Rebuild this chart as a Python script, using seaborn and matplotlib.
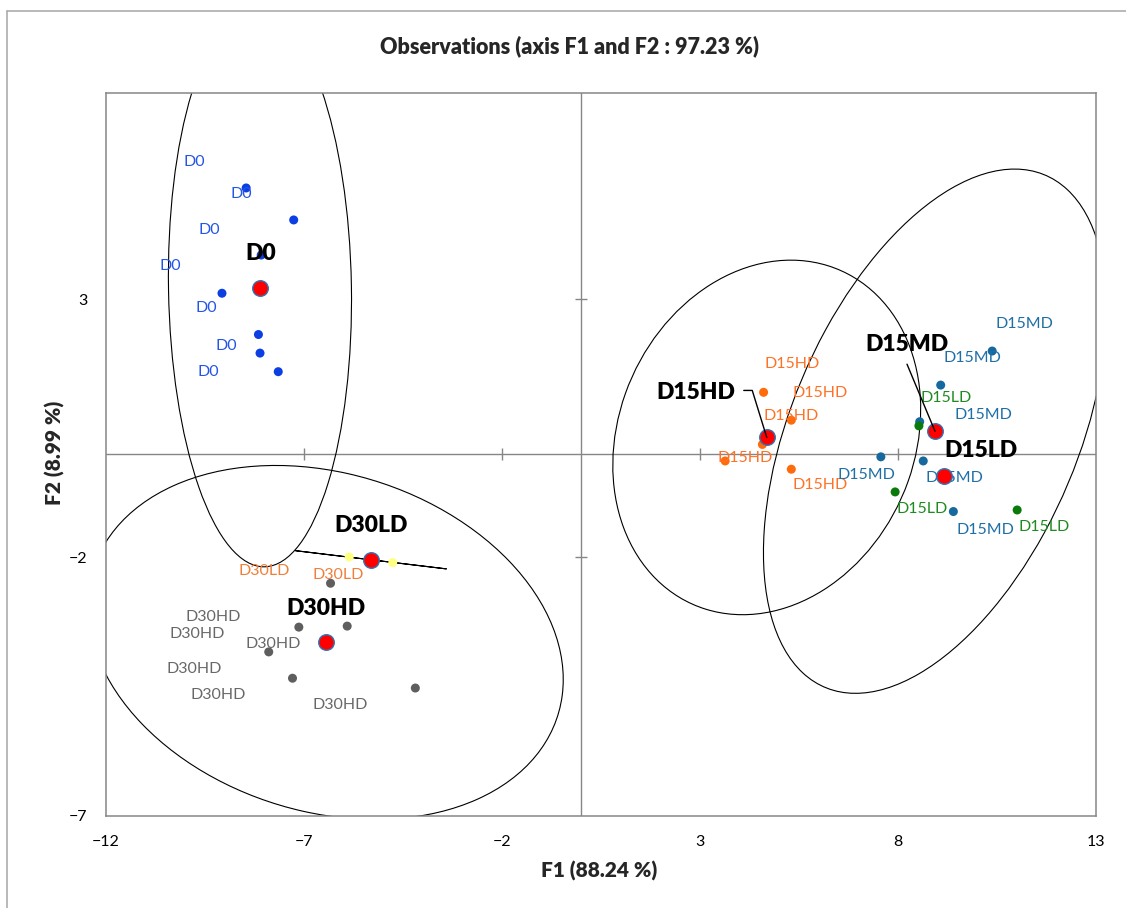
import numpy as np
import pandas as pd
import matplotlib
matplotlib.use("Agg")
import matplotlib.pyplot as plt
from matplotlib.patches import Ellipse
from matplotlib.lines import Line2D
import seaborn as sns

# ---------------- data ----------------
groups = ["D0", "D30LD", "D30HD", "D15HD", "D15MD", "D15LD"]

f1_D0 = [-8.45, -7.25, -8.07, -9.06, -8.14, -8.10, -7.64]
f2_D0 = [5.16, 4.54, 3.86, 3.12, 2.32, 1.96, 1.60]

f1_D30LD = [-5.85, -4.75]
f2_D30LD = [-1.99, -2.10]

f1_D30HD = [-6.32, -7.12, -5.90, -7.88, -7.28, -4.18]
f2_D30HD = [-2.50, -3.35, -3.33, -3.83, -4.34, -4.53]

f1_D15HD = [4.61, 5.31, 4.58, 3.64, 5.31]
f2_D15HD = [1.20, 0.66, 0.19, -0.13, -0.29]

f1_D15MD = [10.38, 9.08, 8.55, 7.57, 8.64, 9.40]
f2_D15MD = [2.00, 1.34, 0.63, -0.05, -0.13, -1.11]

f1_D15LD = [8.53, 7.93, 11.01]
f2_D15LD = [0.55, -0.73, -1.08]

# confidence-ellipse spread matrices (F1 var, F2 var, covariance)
ell_groups = ["D0", "D30LD", "D30HD", "D15HD", "D15MD"]
ell_sxx = [5.34, 3.648, 36.0, 15.1, 18.75]
ell_syy = [29.2, 0.0313, 11.76, 11.8, 25.8]
ell_sxy = [-0.55, -0.338, -4.3, 2.09, 10.2]

x_ticks = [-12, -7, -2, 3, 8, 13]
y_ticks = [-7, -2, 3]

title = "Observations (axis F1 and F2 : 97.23 %)"
x_label = "F1 (88.24 %)"
y_label = "F2 (8.99 %)"

# ---------------- styling / layout ----------------
point_colors = {"D0": "#0B3FE3", "D30LD": "#FFFF80", "D30HD": "#5E5E5E",
                "D15HD": "#FF6A0A", "D15MD": "#16699F", "D15LD": "#0A7A0A"}
label_colors = {"D0": "#2455E6", "D30LD": "#F07F3A", "D30HD": "#686868",
                "D15HD": "#FF7125", "D15MD": "#1E6FA6", "D15LD": "#1F8A1F"}

# label offsets in pixels (dx, dy up) relative to each point
label_off = {
    "D0": [(-52, 26), (-52, 26), (-52, 25), (-52, 27), (-52, 27), (-52, -19), (-52, 26)],
    "D30LD": [(-85, -14), (-55, -12)],
    "D30HD": [(-117, -34), (-102, -7), (-74, -18), (-75, -17), (-74, -17), (-75, -17)],
    "D15HD": [(29, 28), (29, 27), (29, 28), (20, 3), (29, -16)],
    "D15MD": [(32, 27), (32, 27), (64, 7), (-14, -18), (31, -17), (32, -18)],
    "D15LD": [(27, 28), (27, -17), (27, -17)],
}
centroid_label_off = {"D0": (1, 34), "D30LD": (0, 34), "D30HD": (0, 34),
                      "D15HD": (-71, 45), "D15MD": (-28, 87), "D15LD": (37, 25)}

sns.set_theme(style="white")
plt.rcParams["font.family"] = ["Lato", "DejaVu Sans"]

W, H = 1126, 908
fig = plt.figure(figsize=(W / 100, H / 100), dpi=100)
left, right, top, bottom = 105.5, 1096, 93, 815.5
ax = fig.add_axes([left / W, 1 - bottom / H, (right - left) / W, (bottom - top) / H])

# build dataframe
f1 = {"D0": f1_D0, "D30LD": f1_D30LD, "D30HD": f1_D30HD, "D15HD": f1_D15HD,
      "D15MD": f1_D15MD, "D15LD": f1_D15LD}
f2 = {"D0": f2_D0, "D30LD": f2_D30LD, "D30HD": f2_D30HD, "D15HD": f2_D15HD,
      "D15MD": f2_D15MD, "D15LD": f2_D15LD}
rows = []
for g in groups:
    for a, b in zip(f1[g], f2[g]):
        rows.append({"group": g, "F1": a, "F2": b})
df = pd.DataFrame(rows)
cent = df.groupby("group", sort=False)[["F1", "F2"]].mean().reset_index()

ax.set_xlim(-12, 13)
ax.set_ylim(-7, 7)

# axes crossing at zero with small cross ticks
axis_gray = "#868686"
ax.axhline(0, color=axis_gray, lw=1.0, zorder=1)
ax.axvline(0, color=axis_gray, lw=1.0, zorder=1)
inner_x = [t for t in x_ticks if -12 < t < 13]
inner_y = [t for t in y_ticks if -7 < t < 7]
ax.plot(inner_x, [0] * len(inner_x), ls="none", marker="|", ms=8, mew=1.0,
        color=axis_gray, zorder=1)
ax.plot([0] * len(inner_y), inner_y, ls="none", marker="_", ms=8, mew=1.0,
        color=axis_gray, zorder=1)

# ellipses
for g, sxx, syy, sxy in zip(ell_groups, ell_sxx, ell_syy, ell_sxy):
    c = cent[cent.group == g].iloc[0]
    m = np.array([[sxx, sxy], [sxy, syy]])
    vals, vecs = np.linalg.eigh(m)
    order = vals.argsort()[::-1]
    vals, vecs = vals[order], vecs[:, order]
    w = 2 * np.sqrt(max(vals[0], 0))
    h = 2 * np.sqrt(max(vals[1], 0))
    ang = np.degrees(np.arctan2(vecs[1, 0], vecs[0, 0]))
    ax.add_patch(Ellipse((c.F1, c.F2), w, h, angle=ang, fill=False,
                         edgecolor="black", lw=0.8, zorder=2))

# observation points
sns.scatterplot(data=df, x="F1", y="F2", hue="group", palette=point_colors,
                s=42, edgecolor="none", linewidth=0, legend=False, ax=ax, zorder=3)

# observation labels
for g in groups:
    for (a, b), (dx, dy) in zip(zip(f1[g], f2[g]), label_off[g]):
        ax.annotate(g, (a, b), xytext=(dx, dy), textcoords="offset pixels",
                    ha="center", va="center", fontsize=11.5, color=label_colors[g],
                    zorder=4)

# centroids
sns.scatterplot(data=cent, x="F1", y="F2", color="#FF0000", s=125,
                edgecolor="#2E75B6", linewidth=1.0, legend=False, ax=ax, zorder=5)

for _, r in cent.iterrows():
    dx, dy = centroid_label_off[r.group]
    ax.annotate(r.group, (r.F1, r.F2), xytext=(dx, dy), textcoords="offset pixels",
                ha="center", va="center", fontsize=16.5, fontweight="heavy",
                color="black", zorder=6)

# leader lines
c = cent[cent.group == "D15HD"].iloc[0]
ax.annotate("", (c.F1, c.F2), xytext=(-23, 47), textcoords="offset pixels",
            arrowprops=dict(arrowstyle="-", color="black", lw=1.0, shrinkA=0, shrinkB=0,
                            connectionstyle="arc,angleA=0,armA=8.5,angleB=0,armB=0,rad=0"),
            zorder=6)
c = cent[cent.group == "D15MD"].iloc[0]
ax.annotate("", (c.F1, c.F2), xytext=(-28, 67), textcoords="offset pixels",
            arrowprops=dict(arrowstyle="-", color="black", lw=1.0, shrinkA=0, shrinkB=0),
            zorder=6)

# ticks & frame
ax.set_xticks(x_ticks)
ax.set_yticks(y_ticks)
ax.tick_params(axis="both", length=0, labelsize=11.5, labelcolor="black")
ax.tick_params(axis="x", pad=14)
ax.tick_params(axis="y", pad=13)
for s in ax.spines.values():
    s.set_visible(True)
    s.set_color(axis_gray)
    s.set_linewidth(1.1)
ax.set_xlabel("")
ax.set_ylabel("")
ax.grid(False)

fig.text(570 / W, 1 - 46.5 / H, title, ha="center", va="center",
         fontsize=15.5, fontweight="heavy")
fig.text(599 / W, 1 - 871 / H, x_label, ha="center", va="center",
         fontsize=15, fontweight="heavy")
fig.text(55 / W, 1 - 453 / H, y_label, ha="center", va="center", rotation=90,
         fontsize=15, fontweight="heavy")

# outer chart frame (top and left edges visible in reference)
frame_c = "#A6A6A6"
fig.add_artist(Line2D([7 / W, 1], [1 - 10.5 / H, 1 - 10.5 / H], color=frame_c, lw=1.1))
fig.add_artist(Line2D([7 / W, 7 / W], [0, 1 - 10.5 / H], color=frame_c, lw=1.1))

fig.savefig("out.png", dpi=100)
